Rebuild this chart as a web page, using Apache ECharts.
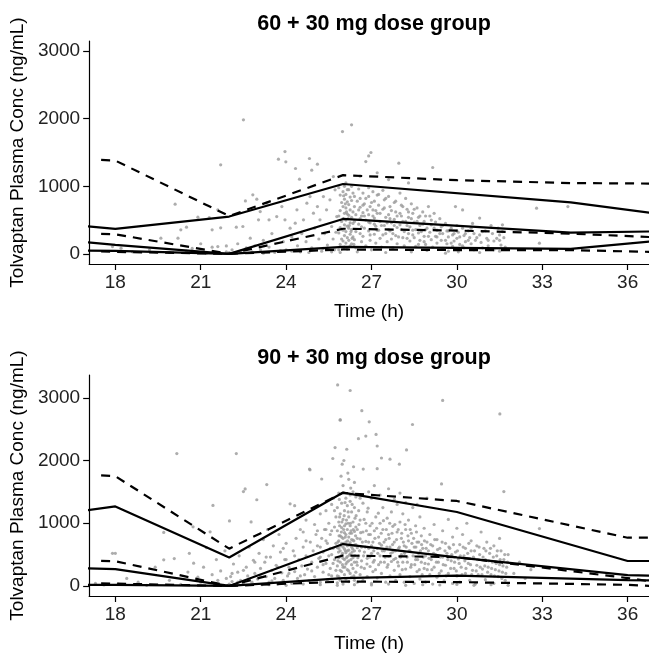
<!DOCTYPE html>
<html>
<head>
<meta charset="utf-8">
<script src="https://cdn.jsdelivr.net/npm/echarts@6/dist/echarts.min.js"></script>
<style>
  html, body { margin: 0; padding: 0; background: #fff; }
  #chart { width: 649px; height: 654px; }
</style>
</head>
<body>
<div id="chart"></div>
<script>
// axis ticks
const timeTicks = [18, 21, 24, 27, 30, 33, 36];
const concTicks = [0, 1000, 2000, 3000];

// 60 + 30 mg : observed percentiles (solid)
const obsTimes60 = [17, 18, 22, 26, 34, 37];
const obs60P95 = [407, 370, 552, 1034, 763, 597];
const obs60P50 = [170, 133, 0, 517, 315, 332];
const obs60P05 = [49, 44, 0, 103, 74, 192];
// 60 + 30 mg : predicted percentiles (dashed)
const predTimes60 = [17.5, 18, 22, 26, 30, 34, 37];
const pred60P95 = [1390, 1380, 560, 1165, 1090, 1048, 1040];
const pred60P50 = [296, 290, 0, 372, 345, 300, 245];
const pred60P05 = [35, 30, 0, 65, 56, 55, 28];

// 90 + 30 mg : observed percentiles (solid)
const obsTimes90 = [17, 18, 22, 26, 30, 36, 37];
const obs90P95 = [1205, 1268, 453, 1489, 1179, 398, 398];
const obs90P50 = [280, 268, 0, 668, 455, 174, 160];
const obs90P05 = [16, 16, 0, 125, 165, 92, 86];
// 90 + 30 mg : predicted percentiles (dashed)
const predTimes90 = [17.5, 18, 22, 26, 30, 36, 37];
const pred90P95 = [1763, 1750, 595, 1484, 1355, 769, 770];
const pred90P50 = [400, 395, 0, 485, 460, 126, 60];
const pred90P05 = [40, 37, 0, 70, 62, 18, -5];

// observed concentrations [time, conc]
const obsPts60 = [
  [17.9,108],[18.2,84],[18.6,30],[19.2,60],[19.6,232],[19.9,20],[20.1,736],[20.2,232],[20.3,355],[20.5,395],
  [20.5,40],[20.9,543],[21.0,150],[21.3,537],[21.4,355],[21.4,99],[21.6,651],[21.6,108],[21.7,1317],[21.7,385],
  [21.9,118],[21.9,30],[21.2,10],[20.7,80],
  [22.0,20],[22.1,60],[22.2,10],[22.25,395],[22.3,150],[22.4,40],[22.48,405],[22.5,1983],[22.57,784],[22.6,90],
  [22.74,232],[22.8,30],[22.83,873],[22.9,120],[22.97,809],[23.03,503],[23.09,626],[23.1,60],[23.2,200],[23.32,750],
  [23.4,503],[23.4,100],[23.5,300],[23.6,20],[23.67,552],[23.73,1401],[23.85,700],[23.9,180],[23.96,503],[23.96,1514],
  [23.99,1362],[24.0,60],[24.14,380],[24.2,250],[24.32,454],[24.33,1263],[24.38,651],[24.4,120],[24.47,1105],[24.5,30],
  [24.55,300],[24.61,503],[24.7,180],[24.73,750],[24.82,1411],[24.84,848],[24.9,1238],[24.9,90],[24.96,602],[25.0,380],
  [25.1,700],[25.1,1327],[25.15,220],[25.19,503],[25.25,40],[25.31,848],[25.35,300],[25.42,651],[25.45,130],[25.54,799],
  [25.6,405],[25.65,220],[25.66,1144],[25.7,60],[25.72,947],[25.75,320],[25.78,552],[25.98,1810],[26.3,1909],[26.98,1500],
  [26.9,1450],[26.8,1366],[27.96,1342],[29.15,1278],[27.2,1200],[26.6,1150],[27.6,1100],[28.3,1050],
  [25.85,980],[25.9,870],[25.95,760],[25.9,640],[25.85,560],[25.95,480],[25.9,390],[25.85,310],[25.95,220],[25.9,140],
  [25.85,60],[26.0,920],[26.05,810],[26.0,700],[26.05,600],[26.0,520],[26.05,430],[26.0,350],[26.05,270],[26.0,190],
  [26.05,100],[26.1,1050],[26.1,880],[26.15,770],[26.1,680],[26.15,590],[26.1,500],[26.15,410],[26.1,330],[26.15,240],
  [26.1,160],[26.15,70],[26.2,950],[26.25,840],[26.2,730],[26.25,650],[26.2,570],[26.25,460],[26.2,380],[26.25,290],
  [26.2,200],[26.25,120],[26.3,1000],[26.35,900],[26.3,790],[26.35,620],[26.3,540],[26.35,450],[26.3,360],[26.35,250],
  [26.3,150],[26.4,850],[26.4,700],[26.45,580],[26.4,480],[26.45,330],[26.4,210],[26.45,90],
  [26.55,960],[26.6,820],[26.6,690],[26.65,560],[26.55,440],[26.6,300],[26.65,180],[26.7,900],[26.75,740],[26.7,610],
  [26.8,500],[26.75,380],[26.7,260],[26.8,120],[26.9,980],[26.9,850],[26.95,700],[26.9,580],[26.95,460],[26.9,340],
  [26.95,200],[27.0,60],[27.05,920],[27.1,780],[27.05,650],[27.1,530],[27.15,410],[27.1,290],[27.15,160],[27.2,870],
  [27.25,720],[27.2,600],[27.3,480],[27.25,350],[27.3,230],[27.35,100],[27.4,940],[27.45,800],[27.4,660],[27.5,540],
  [27.45,420],[27.5,300],[27.55,180],[27.6,850],[27.65,700],[27.6,580],[27.7,460],[27.65,340],[27.7,220],[27.75,90],
  [27.8,760],[27.85,620],[27.8,510],[27.9,390],[27.85,270],[27.9,150],[28.0,900],[28.05,720],[28.0,600],[28.1,480],
  [28.05,360],[28.1,240],[28.15,120],[28.2,820],[28.25,660],[28.3,540],[28.25,420],[28.3,300],[28.35,190],[28.4,740],
  [28.45,600],[28.5,470],[28.45,350],[28.5,240],[28.55,110],[28.6,680],[28.65,540],[28.7,420],[28.65,310],[28.7,200],
  [28.8,620],[28.85,480],[28.9,360],[28.85,260],[28.9,140],[28.95,50],
  [29.0,700],[29.05,560],[29.1,430],[29.05,320],[29.1,210],[29.15,100],[29.2,600],[29.25,470],[29.3,350],[29.25,260],
  [29.3,160],[29.4,520],[29.45,400],[29.5,300],[29.45,200],[29.5,80],[29.6,450],[29.65,340],[29.7,250],[29.65,150],
  [29.7,40],[29.8,380],[29.85,280],[29.9,190],[29.85,110],[29.95,700],[30.0,420],[30.05,320],[30.0,230],[30.1,140],
  [30.05,30],[30.2,650],[30.2,380],[30.25,270],[30.3,180],[30.25,90],[30.4,340],[30.45,240],[30.5,150],[30.55,450],
  [30.6,300],[30.65,200],[30.6,60],[30.8,530],[30.8,280],[30.85,170],[30.9,90],[31.0,340],[31.05,230],[31.1,120],
  [31.2,420],[31.25,300],[31.3,190],[31.3,60],[31.45,380],[31.5,280],[31.5,200],[31.55,130],[31.5,40],[31.6,430],
  [31.6,330],[31.65,240],[31.7,100],[32.8,676],[32.9,158],[33.9,700],
  [26.02,860],[26.08,740],[26.12,620],[26.18,520],[26.22,420],[26.28,330],[26.32,230],[26.38,140],[26.05,1000],[26.15,950],
  [26.5,780],[26.55,650],[26.6,520],[26.65,400],[26.7,720],[26.75,560],[26.8,820],[26.85,650],[26.9,470],[26.95,280],
  [27.0,760],[27.05,560],[27.1,440],[27.15,640],[27.2,350],[27.25,880],[27.3,600],[27.35,420],[27.4,280],[27.45,680],
  [27.5,820],[27.55,460],[27.6,360],[27.65,520],[27.7,640],[27.75,300],[27.8,420],[27.85,780],[27.9,560],[27.95,250],
  [28.0,430],[28.05,560],[28.1,700],[28.15,330],[28.2,480],[28.25,230],[28.3,620],[28.35,400],[28.4,520],[28.45,280],
  [28.5,660],[28.55,360],[28.6,480],[28.65,140],[28.7,560],[28.75,330],[28.8,440],[28.85,180],[28.9,560],[28.95,380],
  [29.0,260],[29.1,500],[29.2,380],[29.3,250],[29.4,300],[29.5,420],[29.6,200],[29.7,340],[29.8,160],[29.9,300],
  [30.0,340],[30.1,250],[30.2,120],[30.3,300],[30.4,200],[30.5,380],[30.7,240],[30.9,330],[31.1,200],[31.4,230],
  [24.2,40],[24.8,20],[25.3,80],[25.6,30],[25.9,20],[26.5,30],[27.5,20],[28.4,30],[29.6,10],[30.8,20],[23.2,10],[23.8,50]
];

const obsPts90 = [
  [17.3,40],[17.6,15],[17.9,520],[18.0,521],[18.1,30],[18.4,120],[18.8,60],[19.1,10],[19.4,300],[19.7,853],
  [19.7,416],[19.9,90],[20.07,437],[20.16,2111],[20.3,25],[20.55,221],[20.6,520],[20.73,942],[20.75,363],[20.9,140],
  [21.0,60],[21.1,300],[21.2,610],[21.33,863],[21.4,180],[21.43,1284],[21.5,30],[21.55,420],[21.6,90],[21.7,240],
  [21.8,10],[21.85,560],[21.9,120],
  [22.0,30],[22.01,1037],[22.05,150],[22.1,70],[22.15,350],[22.2,10],[22.25,2111],[22.3,220],[22.35,480],[22.4,90],
  [22.5,1505],[22.5,40],[22.56,1547],[22.6,300],[22.65,160],[22.7,620],[22.77,1021],[22.8,60],[22.85,410],[22.9,200],
  [22.97,1374],[23.0,110],[23.05,520],[23.1,280],[23.15,20],[23.2,740],[23.25,380],[23.3,150],[23.32,1616],[23.35,900],
  [23.4,60],[23.45,460],[23.5,250],[23.55,640],[23.6,120],[23.65,330],[23.7,30],[23.75,820],[23.8,540],[23.85,210],
  [23.9,90],[23.95,420],[24.0,680],[24.05,160],[24.1,300],[24.14,1310],[24.2,40],[24.25,560],[24.3,1280],[24.3,230],
  [24.35,760],[24.4,120],[24.45,420],[24.5,900],[24.5,60],[24.55,320],[24.6,620],[24.65,180],[24.7,1050],[24.7,480],
  [24.75,270],[24.8,80],[24.82,1863],[24.84,1852],[24.85,700],[24.9,380],[24.95,560],[25.0,150],[25.0,980],[25.05,820],
  [25.1,300],[25.1,640],[25.15,440],[25.2,1150],[25.2,60],[25.25,1705],[25.25,760],[25.3,220],[25.3,540],[25.35,900],
  [25.4,360],[25.4,1200],[25.45,100],[25.45,680],[25.5,480],[25.5,1000],[25.55,280],[25.55,820],[25.6,160],[25.6,1300],
  [25.64,2032],[25.65,600],[25.66,1400],[25.7,420],[25.7,940],[25.72,2206],[25.75,250],[25.75,1100],
  [25.8,50],[25.8,320],[25.8,610],[25.8,880],[25.8,1250],[25.81,3205],[25.85,150],[25.85,450],[25.85,720],[25.85,1020],
  [25.85,1480],[25.9,2642],[25.9,2653],[25.9,90],[25.9,380],[25.9,560],[25.9,800],[25.9,1150],[25.95,230],[25.95,490],
  [25.95,680],[25.95,930],[25.95,1320],[25.97,1942],[26.0,30],[26.0,300],[26.0,620],[26.0,760],[26.0,1060],[26.0,1600],
  [26.05,180],[26.05,420],[26.05,590],[26.05,850],[26.05,1200],[26.1,110],[26.1,350],[26.1,530],[26.1,700],[26.1,990],
  [26.1,1400],[26.13,2179],[26.15,260],[26.15,470],[26.15,640],[26.15,900],[26.15,1280],[26.2,70],[26.2,400],[26.2,570],
  [26.2,780],[26.2,1100],[26.2,1700],[26.25,3116],[26.25,200],[26.25,510],[26.25,690],[26.25,960],[26.25,1350],[26.3,140],
  [26.3,340],[26.3,620],[26.3,840],[26.3,1180],[26.35,280],[26.35,450],[26.35,730],[26.35,1020],[26.35,1500],[26.4,90],
  [26.4,380],[26.4,560],[26.4,870],[26.4,1250],[26.45,220],[26.45,660],[26.45,940],[26.45,1420],
  [25.82,700],[25.88,960],[25.92,640],[25.98,520],[26.02,900],[26.08,780],[26.12,450],[26.18,1000],[26.22,650],[26.28,880],
  [26.32,540],[26.38,720],[26.42,1080],[25.87,1380],[26.07,1330],[26.27,1560],[26.17,1800],[26.37,1900],[25.93,1750],[26.03,2000],
  [26.5,60],[26.5,330],[26.5,610],[26.5,900],[26.54,2348],[26.55,1200],[26.55,480],[26.6,180],[26.6,750],[26.6,1050],
  [26.66,2795],[26.65,400],[26.65,620],[26.7,90],[26.7,860],[26.71,1863],[26.7,1320],[26.75,280],[26.75,540],[26.8,2390],
  [26.8,710],[26.8,1000],[26.85,150],[26.85,440],[26.85,1180],[26.9,600],[26.9,820],[26.92,2616],[26.95,310],[26.95,960],
  [27.0,40],[27.0,520],[27.0,1400],[27.05,700],[27.05,230],[27.1,880],[27.1,410],[27.15,1100],[27.16,2416],[27.2,1870],
  [27.2,2231],[27.2,600],[27.2,130],[27.25,340],[27.25,780],[27.3,1000],[27.3,480],[27.35,2040],[27.35,200],[27.35,650],
  [27.4,900],[27.4,1250],[27.45,380],[27.45,560],[27.5,60],[27.5,740],[27.55,1080],[27.55,300],[27.6,470],[27.6,820],
  [27.65,2021],[27.65,160],[27.65,620],[27.7,1180],[27.7,390],[27.75,950],[27.75,540],[27.8,250],[27.8,700],[27.85,90],
  [27.85,440],[27.9,860],[27.9,1300],[27.95,600],[27.95,320],[27.98,1942],[28.0,1020],[28.0,180],[28.05,500],[28.05,760],
  [28.1,380],[28.1,1150],[28.15,640],[28.15,60],[28.2,900],[28.2,270],[28.23,2169],[28.25,460],[28.3,720],[28.3,1050],
  [28.35,150],[28.35,560],[28.4,340],[28.4,840],[28.44,2574],[28.45,1250],[28.5,620],[28.5,40],[28.55,420],[28.55,960],
  [28.6,230],[28.6,700],[28.65,520],[28.7,1100],[28.7,110],[28.75,380],[28.75,800],[28.8,600],[28.85,280],[28.85,920],
  [28.9,480],[28.9,60],[28.95,700],[28.95,1400],[29.0,350],
  [29.0,560],[29.05,180],[29.05,820],[29.1,420],[29.15,640],[29.15,30],[29.2,300],[29.2,980],[29.25,500],[29.3,140],
  [29.3,740],[29.35,380],[29.4,600],[29.46,1626],[29.45,240],[29.5,2958],[29.5,880],[29.5,460],[29.55,80],[29.6,680],
  [29.6,330],[29.65,520],[29.7,200],[29.7,1060],[29.75,600],[29.8,400],[29.85,40],[29.85,780],[29.9,280],[29.95,540],
  [30.0,160],[30.0,920],[30.05,430],[30.1,660],[30.1,60],[30.15,300],[30.2,820],[30.25,480],[30.3,200],[30.3,600],
  [30.35,1000],[30.4,360],[30.45,90],[30.5,560],[30.5,720],[30.55,250],[30.6,440],[30.65,30],[30.7,640],[30.7,330],
  [30.75,180],[30.8,500],[30.85,860],[30.9,270],[30.95,600],[31.0,420],[31.0,100],[31.05,700],[31.1,300],[31.15,520],
  [31.2,180],[31.25,380],[31.3,640],[31.3,40],[31.35,260],[31.4,480],[31.45,150],[31.5,758],[31.5,340],[31.51,2743],
  [31.55,560],[31.6,220],[31.65,1505],[31.65,420],[31.7,90],[31.75,300],[31.8,500],[32.0,200],[32.2,380],[32.4,120],
  [32.6,260],[32.9,915],
  [25.8,160],[25.82,400],[25.84,540],[25.86,800],[25.88,1100],[25.9,250],[25.92,470],[25.94,860],[25.96,1020],[25.98,340],
  [26.0,440],[26.02,680],[26.04,1120],[26.06,300],[26.08,560],[26.1,820],[26.12,1050],[26.14,380],[26.16,720],[26.18,1180],
  [26.2,240],[26.22,490],[26.24,840],[26.26,1000],[26.28,420],[26.3,740],[26.32,1300],[26.34,590],[26.36,900],[26.38,160],
  [26.4,650],[26.42,480],[26.44,800],[26.46,1120],[26.48,380],[25.85,600],[25.95,780],[26.05,960],[26.15,560],[26.25,1450],
  [26.5,760],[26.52,450],[26.56,980],[26.58,560],[26.62,850],[26.64,300],[26.68,700],[26.72,480],[26.74,1060],[26.78,620],
  [26.82,880],[26.84,350],[26.88,1240],[26.9,700],[26.94,460],[26.96,820],[27.0,640],[27.02,1000],[27.06,380],[27.08,560],
  [27.12,760],[27.14,260],[27.18,920],[27.22,520],[27.24,1160],[27.28,680],[27.32,380],[27.34,840],[27.38,560],[27.42,1040],
  [27.44,700],[27.48,460],[27.52,900],[27.54,620],[27.58,340],[27.62,760],[27.64,1000],[27.68,520],[27.72,840],[27.74,660],
  [27.78,420],[27.82,980],[27.84,560],[27.88,740],[27.92,380],[27.94,900],[27.98,620],[28.02,460],[28.06,840],[28.08,260],
  [28.12,700],[28.16,520],[28.18,980],[28.22,620],[28.26,380],[28.28,800],[28.32,560],[28.36,900],[28.38,300],[28.42,680],
  [28.46,480],[28.48,760],[28.52,340],[28.56,620],[28.58,860],[28.62,420],[28.66,700],[28.68,260],[28.72,560],[28.76,660],
  [28.78,180],[28.82,460],[28.86,720],[28.88,360],[28.92,600],[28.96,260],[26.6,1400],[26.9,1500],[27.3,1450],[27.8,1380],
  [28.2,1330],[28.6,1300],[26.4,1650],[27.1,1600],[27.6,1550],[28.0,1480],
  [29.02,440],[29.08,660],[29.12,260],[29.18,520],[29.22,740],[29.28,380],[29.32,580],[29.38,200],[29.42,460],[29.48,700],
  [29.52,340],[29.58,560],[29.62,160],[29.68,420],[29.72,620],[29.78,280],[29.82,500],[29.88,660],[29.92,380],[29.98,240],
  [30.02,560],[30.08,360],[30.12,480],[30.18,180],[30.22,620],[30.28,400],[30.32,280],[30.38,520],[30.42,680],[30.48,340],
  [30.52,180],[30.58,460],[30.62,560],[30.68,240],[30.72,420],[30.78,620],[30.82,300],[30.88,180],[30.92,460],[30.98,320],
  [31.02,560],[31.08,220],[31.12,400],[31.18,600],[31.22,280],[31.28,460],[31.32,160],[31.38,360],[31.42,560],[31.48,240],
  [31.52,420],[31.58,120],[31.62,320],[31.68,500],[31.72,200],[31.78,380],
  [22.1,200],[22.3,60],[22.5,250],[22.7,100],[22.9,380],[23.1,150],[23.3,460],[23.5,80],[23.7,300],[23.9,600],
  [24.1,200],[24.3,480],[24.5,160],[24.7,720],[24.9,240],[25.1,880],[25.2,460],[25.3,340],[25.4,720],[25.5,180],
  [25.55,600],[25.6,880],[25.65,360],[25.7,1200],[25.75,680],[25.6,500],[25.4,900],[25.2,620],[24.6,860],[24.0,420],
  [23.4,20],[24.0,10],[24.6,30],[25.2,20],[25.8,10],[26.4,20],[27.0,15],[27.6,30],[28.2,10],[28.8,20],
  [29.4,15],[30.0,25],[30.6,10],[31.2,20],[31.8,10]
];

const panels = [
  { title: '60 + 30 mg dose group', top: 41, yMin: -150, yMax: 3150, pts: obsPts60,
    obsT: obsTimes60, obs: [obs60P95, obs60P50, obs60P05],
    predT: predTimes60, pred: [pred60P95, pred60P50, pred60P05] },
  { title: '90 + 30 mg dose group', top: 375, yMin: -160, yMax: 3363, pts: obsPts90,
    obsT: obsTimes90, obs: [obs90P95, obs90P50, obs90P05],
    predT: predTimes90, pred: [pred90P95, pred90P50, pred90P05] }
];

const font = '"Liberation Sans", Arial, sans-serif';
const zip = (ts, vs) => ts.map((t, i) => [t, vs[i]]);

const grids = [], xAxes = [], yAxes = [], titles = [], series = [];
panels.forEach((p, i) => {
  grids.push({ left: 89, right: 0, top: p.top, height: 223 });
  titles.push({
    text: p.title, left: 369, top: p.top - 33, textAlign: 'center',
    textStyle: { fontFamily: font, fontSize: 21.5, fontWeight: 'bold', color: '#000' }
  });
  xAxes.push({
    gridIndex: i, type: 'value', min: 17.08, max: 36.75,
    name: 'Time (h)', nameLocation: 'middle', nameGap: 38,
    nameTextStyle: { fontFamily: font, fontSize: 19, color: '#000' },
    axisLine: { show: true, onZero: false, lineStyle: { color: '#000', width: 1.2 } },
    axisTick: { show: true, length: 6, customValues: timeTicks, lineStyle: { color: '#000', width: 1.2 } },
    axisLabel: { customValues: timeTicks, margin: 9, fontFamily: font, fontSize: 19, color: '#222' },
    splitLine: { show: false }
  });
  yAxes.push({
    gridIndex: i, type: 'value', min: p.yMin, max: p.yMax,
    name: 'Tolvaptan Plasma Conc (ng/mL)', nameLocation: 'middle', nameGap: 54,
    nameTextStyle: { fontFamily: font, fontSize: 19, color: '#000' },
    axisLine: { show: true, onZero: false, lineStyle: { color: '#000', width: 1.2 } },
    axisTick: { show: true, length: 6, customValues: concTicks, lineStyle: { color: '#000', width: 1.2 } },
    axisLabel: { customValues: concTicks, margin: 9, fontFamily: font, fontSize: 19, color: '#222',
      formatter: v => String(v) },
    splitLine: { show: false }
  });
  series.push({
    type: 'scatter', xAxisIndex: i, yAxisIndex: i, data: p.pts,
    symbolSize: 3.2, itemStyle: { color: '#999999' }, silent: true, z: 1
  });
  p.obs.forEach(vals => series.push({
    type: 'line', xAxisIndex: i, yAxisIndex: i, data: zip(p.obsT, vals),
    showSymbol: false, lineStyle: { color: '#000', width: 2.2 }, silent: true, z: 3
  }));
  p.pred.forEach(vals => series.push({
    type: 'line', xAxisIndex: i, yAxisIndex: i, data: zip(p.predT, vals),
    showSymbol: false, lineStyle: { color: '#000', width: 2.2, type: [9, 7] }, silent: true, z: 3
  }));
});

const chart = echarts.init(document.getElementById('chart'), null, { renderer: 'canvas' });
chart.setOption({
  animation: false,
  backgroundColor: '#fff',
  title: titles,
  grid: grids,
  xAxis: xAxes,
  yAxis: yAxes,
  series: series
});
</script>
</body>
</html>
